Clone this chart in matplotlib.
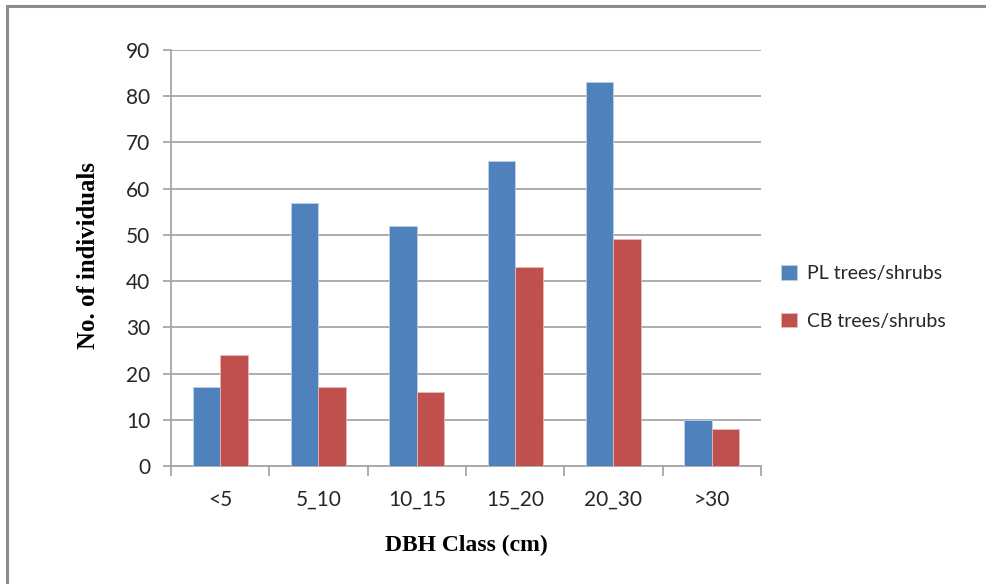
import numpy as np
import matplotlib.pyplot as plt
from matplotlib.patches import Rectangle

# DBH classes and counts of individuals
classes = ['<5', '5_10', '10_15', '15_20', '20_30', '>30']
pl_counts = [17, 57, 52, 66, 83, 10]
cb_counts = [24, 17, 16, 43, 49, 8]
series_names = ['PL trees/shrubs', 'CB trees/shrubs']

blue = '#4F81BD'
red = '#C0504D'
grid_col = '#A6A6A6'
tick_font = 'Lato'
label_font = 'Liberation Serif'

fig = plt.figure(figsize=(9.86, 5.84), dpi=100)
ax = fig.add_axes([0.1734, 0.2021, 0.5984, 0.7123])

x = np.arange(len(classes))
w = 0.28
ax.bar(x - w/2, pl_counts, w, color=blue, edgecolor='#BFD0E6', linewidth=0.6,
       label=series_names[0], zorder=3)
ax.bar(x + w/2, cb_counts, w, color=red, edgecolor='#E6B9B8', linewidth=0.6,
       label=series_names[1], zorder=3)

ax.set_xlim(-0.5, len(classes) - 0.5)
ax.set_ylim(0, 90)
ax.set_yticks(np.arange(0, 91, 10))
ax.yaxis.grid(True, color=grid_col, linewidth=1.3, zorder=0)
ax.set_axisbelow(True)

for s in ['top', 'right']:
    ax.spines[s].set_visible(False)
for s in ['left', 'bottom']:
    ax.spines[s].set_color(grid_col)
    ax.spines[s].set_linewidth(1.3)

# category boundaries get the tick marks, labels sit at the centres
ax.set_xticks(np.arange(-0.5, len(classes), 1.0))
ax.set_xticklabels([])
ax.set_xticks(x, minor=True)
ax.set_xticklabels(classes, minor=True)
ax.tick_params(axis='x', which='major', length=7, width=1.3, color=grid_col, direction='out')
ax.tick_params(axis='x', which='minor', length=0, pad=17, labelsize=15, labelcolor='#262626')
ax.tick_params(axis='y', length=6, width=1.3, color=grid_col, pad=9, labelsize=15,
               labelcolor='#262626')
for lab in ax.get_xticklabels(minor=True) + ax.get_yticklabels():
    lab.set_fontfamily(tick_font)

ax.set_xlabel('DBH Class (cm)', fontfamily=label_font, fontweight='bold', fontsize=17,
              labelpad=18)
fig.text(0.0893, 0.5633, 'No. of individuals', rotation=90, ha='center', va='center',
         fontfamily=label_font, fontweight='bold', fontsize=17.8)

leg = ax.legend(loc='center left', bbox_to_anchor=(1.005, 0.405), frameon=False,
                handlelength=0.8, handleheight=0.8, handletextpad=0.5,
                labelspacing=1.55, prop={'family': tick_font, 'size': 14})
for t in leg.get_texts():
    t.set_color('#262626')

# outer chart border
fig.patches.append(Rectangle((0.0071, -0.05), 1.1, 0.0397 + 1.0, transform=fig.transFigure,
                             fill=False, edgecolor='#8C8C8C', linewidth=2.2))

fig.savefig('out.png', dpi=100)
